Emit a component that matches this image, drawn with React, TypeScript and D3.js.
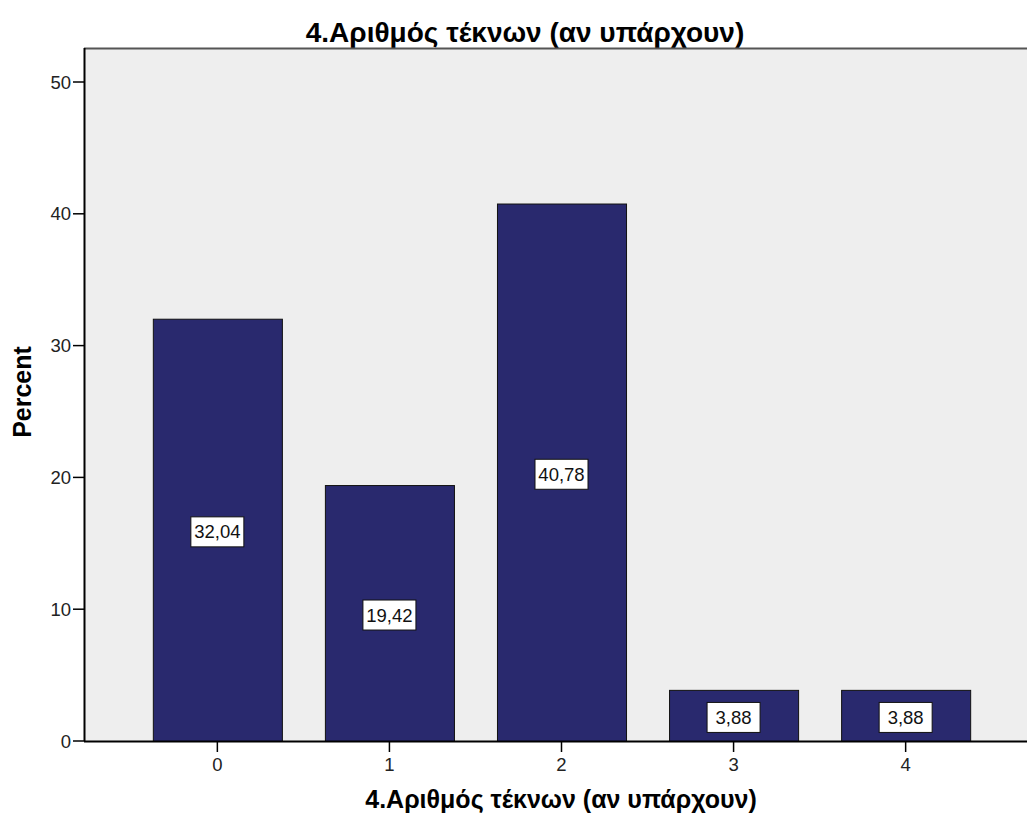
import React from "react";
import * as d3 from "d3";

// Number of children (if any) — percentage of respondents
const categories: string[] = ["0", "1", "2", "3", "4"];
const percents: number[] = [32.04, 19.42, 40.78, 3.88, 3.88];
const percentLabels: string[] = ["32,04", "19,42", "40,78", "3,88", "3,88"];
const yTicks: number[] = [0, 10, 20, 30, 40, 50];
const chartTitle = "4.Αριθμός τέκνων (αν υπάρχουν)";
const xTitle = "4.Αριθμός τέκνων (αν υπάρχουν)";
const yTitle = "Percent";

const W = 1027;
const H = 819;
const plot = { left: 84, top: 48, bottom: 741, right: 1027 };
const FONT = "'Liberation Sans', Arial, sans-serif";
const BAR_FILL = "#29296e";
const BG = "#eeeeee";

export default function App() {
  const x = d3
    .scaleBand<string>()
    .domain(categories)
    .range([plot.left, 1039])
    .paddingInner(0.25)
    .paddingOuter(0.4);

  const y = d3.scaleLinear().domain([0, 52.58]).range([plot.bottom, plot.top]);

  const bw = x.bandwidth();

  return (
    <>
      <style>{`body{margin:0}`}</style>
      <svg width={W} height={H} style={{ display: "block", background: "#fff" }} fontFamily={FONT}>
        <text x={525} y={42} textAnchor="middle" fontSize={28} fontWeight="bold" fill="#000">
          {chartTitle}
        </text>

        <rect
          x={plot.left}
          y={plot.top}
          width={plot.right - plot.left}
          height={plot.bottom - plot.top}
          fill={BG}
        />
        <line x1={plot.left} x2={plot.right} y1={plot.top + 0.5} y2={plot.top + 0.5} stroke="#555" strokeWidth={2} />

        {percents.map((v, i) => (
          <rect
            key={categories[i]}
            x={(x(categories[i]) ?? 0) + 0.5}
            y={y(v) + 0.5}
            width={bw}
            height={y(0) - y(v)}
            fill={BAR_FILL}
            stroke="#111"
            strokeWidth={1}
          />
        ))}

        {percents.map((v, i) => {
          const cx = (x(categories[i]) ?? 0) + bw / 2;
          const cy = y(v / 2) + 2;
          return (
            <g key={"lab" + i}>
              <rect x={cx - 26.5} y={cy - 15} width={53} height={30} fill="#fff" stroke="#111" strokeWidth={1} />
              <text x={cx} y={cy} textAnchor="middle" dominantBaseline="central" fontSize={18.5} fill="#111">
                {percentLabels[i]}
              </text>
            </g>
          );
        })}

        {/* y axis */}
        <line x1={plot.left + 0.5} x2={plot.left + 0.5} y1={plot.top} y2={plot.bottom} stroke="#000" strokeWidth={2} />
        {yTicks.map((t) => (
          <g key={"yt" + t}>
            <line x1={plot.left - 11} x2={plot.left} y1={y(t)} y2={y(t)} stroke="#000" strokeWidth={1.5} />
            <text x={plot.left - 13} y={y(t)} textAnchor="end" dominantBaseline="central" fontSize={18.5} fill="#222">
              {t}
            </text>
          </g>
        ))}

        {/* x axis */}
        <line x1={plot.left} x2={plot.right} y1={plot.bottom + 0.5} y2={plot.bottom + 0.5} stroke="#000" strokeWidth={2} />
        {categories.map((c) => {
          const cx = (x(c) ?? 0) + bw / 2;
          return (
            <g key={"xt" + c}>
              <line x1={cx} x2={cx} y1={plot.bottom} y2={plot.bottom + 11} stroke="#000" strokeWidth={1.5} />
              <text x={cx} y={771} textAnchor="middle" fontSize={18.5} fill="#222">
                {c}
              </text>
            </g>
          );
        })}

        <text x={561} y={808} textAnchor="middle" fontSize={25} fontWeight="bold" fill="#000">
          {xTitle}
        </text>
        <text
          transform={`translate(22,392) rotate(-90)`}
          textAnchor="middle"
          dominantBaseline="central"
          fontSize={25}
          fontWeight="bold"
          fill="#000"
        >
          {yTitle}
        </text>
      </svg>
    </>
  );
}
